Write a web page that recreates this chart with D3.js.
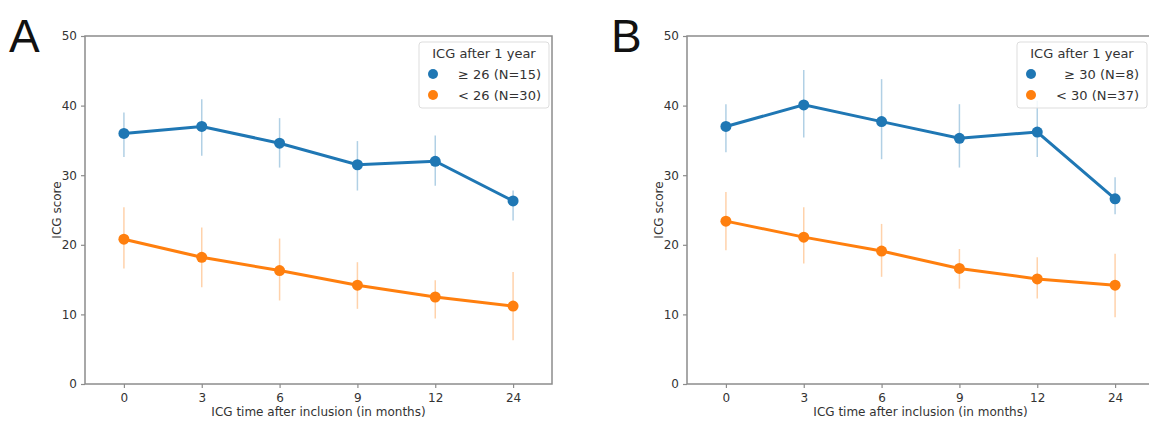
<!DOCTYPE html>
<html><head><meta charset="utf-8">
<script src="https://cdn.jsdelivr.net/npm/d3@7"></script>
<style>body{margin:0;background:#fff}svg{display:block}</style>
</head><body>
<svg id="c" width="1149" height="426"></svg>
<script>
const categories = ["0","3","6","9","12","24"];
const yTicks = [0,10,20,30,40,50];

// Panel A
const aHighMean = [36.0, 37.0, 34.6, 31.5, 32.0, 26.3];
const aHighLo   = [32.6, 32.8, 31.1, 27.8, 28.5, 23.5];
const aHighHi   = [39.0, 40.9, 38.2, 34.9, 35.7, 27.8];
const aLowMean  = [20.8, 18.2, 16.3, 14.2, 12.5, 11.2];
const aLowLo    = [16.6, 13.9, 12.0, 10.8, 9.4, 6.3];
const aLowHi    = [25.4, 22.5, 20.9, 17.5, 14.9, 16.1];
const aLabels   = ["≥ 26 (N=15)", "< 26 (N=30)"];

// Panel B
const bHighMean = [37.0, 40.1, 37.7, 35.3, 36.2, 26.6];
const bHighLo   = [33.3, 35.4, 32.3, 31.1, 32.6, 24.4];
const bHighHi   = [40.2, 45.1, 43.8, 40.2, 40.7, 29.7];
const bLowMean  = [23.4, 21.1, 19.1, 16.6, 15.1, 14.2];
const bLowLo    = [19.2, 17.3, 15.4, 13.7, 12.3, 9.6];
const bLowHi    = [27.6, 25.4, 23.0, 19.4, 18.2, 18.7];
const bLabels   = ["≥ 30 (N=8)", "< 30 (N=37)"];

const legendTitle = "ICG after 1 year";
const xTitle = "ICG time after inclusion (in months)";
const yTitle = "ICG score";
const colors = ["#1f77b4", "#ff7f0e"];

const panels = [
  {letter:"A", left:85, series:[[aHighMean,aHighLo,aHighHi],[aLowMean,aLowLo,aLowHi]], labels:aLabels, legendX:419},
  {letter:"B", left:687, series:[[bHighMean,bHighLo,bHighHi],[bLowMean,bLowLo,bLowHi]], labels:bLabels, legendX:1017}
];

const svg = d3.select("#c");
const plotTop = 36, plotBottom = 384, plotWidth = 467;
const font = "DejaVu Sans, sans-serif";
const textCol = "#333";
const spineCol = "#8c8c8c";

panels.forEach(p => {
  const x = d3.scalePoint().domain(categories).range([p.left, p.left+plotWidth]).padding(0.5);
  const y = d3.scaleLinear().domain([0,50]).range([plotBottom, plotTop]);
  const g = svg.append("g");

  g.append("rect").attr("x", p.left).attr("y", plotTop).attr("width", plotWidth).attr("height", plotBottom-plotTop)
    .attr("fill","none").attr("stroke", spineCol).attr("stroke-width", 1.5);

  const xa = g.append("g").attr("transform",`translate(0,${plotBottom})`)
    .call(d3.axisBottom(x).tickSize(4).tickPadding(5));
  const ya = g.append("g").attr("transform",`translate(${p.left},0)`)
    .call(d3.axisLeft(y).tickValues(yTicks).tickSize(4).tickPadding(4));
  [xa, ya].forEach(a => {
    a.select(".domain").remove();
    a.selectAll("line").attr("stroke", spineCol).attr("stroke-width",1.2);
    a.selectAll("text").attr("fill", textCol).style("font-family", font).style("font-size","12px");
  });

  g.append("text").attr("x", p.left + plotWidth/2).attr("y", 416).attr("text-anchor","middle")
    .attr("fill", textCol).style("font-family", font).style("font-size","12px").text(xTitle);
  g.append("text").attr("transform",`translate(${p.left-24},${(plotTop+plotBottom)/2}) rotate(-90)`)
    .attr("text-anchor","middle").attr("fill", textCol).style("font-family", font).style("font-size","12px").text(yTitle);

  g.append("text").attr("x", p.left - 76).attr("y", 52).attr("fill","#111")
    .style("font-family","Liberation Sans, Arial, sans-serif").style("font-size","46px").text(p.letter);

  p.series.forEach((s, i) => {
    const [mean, lo, hi] = s;
    const col = colors[i];
    const sg = g.append("g");
    sg.selectAll("line.err").data(categories).join("line").attr("class","err")
      .attr("x1", d => x(d)).attr("x2", d => x(d))
      .attr("y1", (d,k) => y(lo[k])).attr("y2", (d,k) => y(hi[k]))
      .attr("stroke", col).attr("stroke-opacity", 0.35).attr("stroke-width", 1.5);
    const line = d3.line().x((d,k) => x(categories[k])).y(d => y(d));
    sg.append("path").datum(mean).attr("d", line).attr("fill","none")
      .attr("stroke", col).attr("stroke-width", 3);
    sg.selectAll("circle").data(mean).join("circle")
      .attr("cx", (d,k) => x(categories[k])).attr("cy", d => y(d)).attr("r", 5.5).attr("fill", col);
  });

  const lg = g.append("g").attr("transform", `translate(${p.legendX},42)`);
  lg.append("rect").attr("width", 130).attr("height", 66).attr("rx", 3)
    .attr("fill","#fff").attr("fill-opacity",0.85).attr("stroke","#ddd");
  lg.append("text").attr("x", 65).attr("y", 16).attr("text-anchor","middle").attr("fill",textCol)
    .style("font-family", font).style("font-size","13px").text(legendTitle);
  p.labels.forEach((lab, i) => {
    lg.append("circle").attr("cx", 14).attr("cy", 32 + i*21).attr("r", 5).attr("fill", colors[i]);
    lg.append("text").attr("x", 122).attr("y", 37 + i*21).attr("text-anchor","end").attr("fill",textCol)
      .style("font-family", font).style("font-size","13px").text(lab);
  });
});
</script>
</body></html>
